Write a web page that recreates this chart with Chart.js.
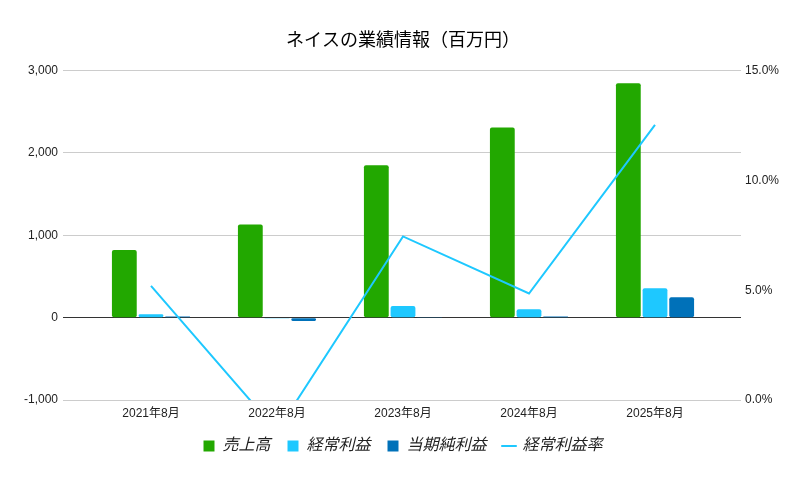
<!DOCTYPE html>
<html>
<head>
<meta charset="utf-8">
<script src="https://cdn.jsdelivr.net/npm/chart.js@4"></script>
<style>
  html, body { margin: 0; padding: 0; background: #fff; }
  #wrap { width: 806px; height: 479px; }
</style>
</head>
<body>
<div id="wrap"><canvas id="chart" width="806" height="479"></canvas></div>
<script>
const categories = ["2021年8月", "2022年8月", "2023年8月", "2024年8月", "2025年8月"];
const sales = [820, 1130, 1850, 2310, 2845];
const ordinaryProfit = [42, -5, 140, 103, 357];
const netIncome = [15, -40, 2, 15, 248];
const ordinaryMargin = [5.2, -1.42, 7.45, 4.85, 12.53];

const leftTicks = [-1000, 0, 1000, 2000, 3000];
const rightTicks = [0, 5, 10, 15];

const FONT = "'Liberation Sans', 'Noto Sans CJK JP', sans-serif";
const gridCol = (v) => (v === 0 ? "#333333" : "#cccccc");

// extend the left axis gridlines past the right edge of the plot
const rightTickMarks = {
  id: "rightTickMarks",
  afterDraw(chart) {
    const y = chart.scales.y;
    const area = chart.chartArea;
    const ctx = chart.ctx;
    ctx.save();
    ctx.lineWidth = 1;
    y.ticks.forEach((t) => {
      const py = Math.round(y.getPixelForValue(t.value) - 0.5) + 0.5;
      ctx.strokeStyle = gridCol(t.value);
      ctx.beginPath();
      ctx.moveTo(area.right, py);
      ctx.lineTo(area.right + 23, py);
      ctx.stroke();
    });
    ctx.restore();
  },
};

const barStyle = {
  categoryPercentage: 0.635,
  barPercentage: 0.93,
  borderRadius: 2,
  borderSkipped: false,
  pointStyle: "rect",
  order: 1,
  yAxisID: "y",
};

new Chart(document.getElementById("chart"), {
  type: "bar",
  data: {
    labels: categories,
    datasets: [
      { ...barStyle, label: "売上高", data: sales, backgroundColor: "#22a800" },
      { ...barStyle, label: "経常利益", data: ordinaryProfit, backgroundColor: "#1ec8ff" },
      { ...barStyle, label: "当期純利益", data: netIncome, backgroundColor: "#0071b9" },
      {
        type: "line",
        label: "経常利益率",
        data: ordinaryMargin,
        yAxisID: "y1",
        borderColor: "#1ec8ff",
        backgroundColor: "#1ec8ff",
        borderWidth: 2,
        pointRadius: 0,
        pointStyle: "line",
        tension: 0,
        order: 0,
      },
    ],
  },
  options: {
    responsive: false,
    devicePixelRatio: 1,
    animation: false,
    layout: { padding: { left: 0, right: 0, top: 0, bottom: 15 } },
    plugins: {
      title: {
        display: true,
        text: "ネイスの業績情報（百万円）",
        color: "#000",
        font: { family: FONT, size: 18, weight: "normal" },
        padding: { top: 30, bottom: 19 },
      },
      legend: {
        position: "bottom",
        labels: {
          usePointStyle: true,
          boxWidth: 11,
          boxHeight: 11,
          padding: 17,
          color: "#222",
          font: { family: FONT, size: 16, style: "italic" },
          sort: (a, b) => a.datasetIndex - b.datasetIndex,
        },
      },
      tooltip: { enabled: false },
    },
    scales: {
      x: {
        grid: { display: false, drawTicks: false },
        border: { display: false },
        ticks: {
          color: "#222",
          font: { family: FONT, size: 12 },
          padding: 6,
          maxRotation: 0,
        },
        afterFit(scale) { scale.height = 21; },
      },
      y: {
        position: "left",
        min: leftTicks[0],
        max: leftTicks[leftTicks.length - 1],
        afterBuildTicks(scale) { scale.ticks = leftTicks.map((v) => ({ value: v })); },
        grid: {
          color: (c) => gridCol(c.tick.value),
          tickColor: (c) => gridCol(c.tick.value),
          tickLength: 25,
        },
        border: { display: false },
        ticks: {
          color: "#222",
          font: { family: FONT, size: 12 },
          padding: 5,
          callback: (v) => v.toLocaleString("en-US"),
        },
        afterFit(scale) { scale.width = 88; },
      },
      y1: {
        position: "right",
        min: rightTicks[0],
        max: rightTicks[rightTicks.length - 1],
        afterBuildTicks(scale) { scale.ticks = rightTicks.map((v) => ({ value: v })); },
        grid: { display: false, drawTicks: false },
        border: { display: false },
        ticks: {
          color: "#222",
          font: { family: FONT, size: 12 },
          padding: 27,
          callback: (v) => v.toFixed(1) + "%",
        },
        afterFit(scale) { scale.width = 88; },
      },
    },
  },
  plugins: [rightTickMarks],
});
</script>
</body>
</html>
